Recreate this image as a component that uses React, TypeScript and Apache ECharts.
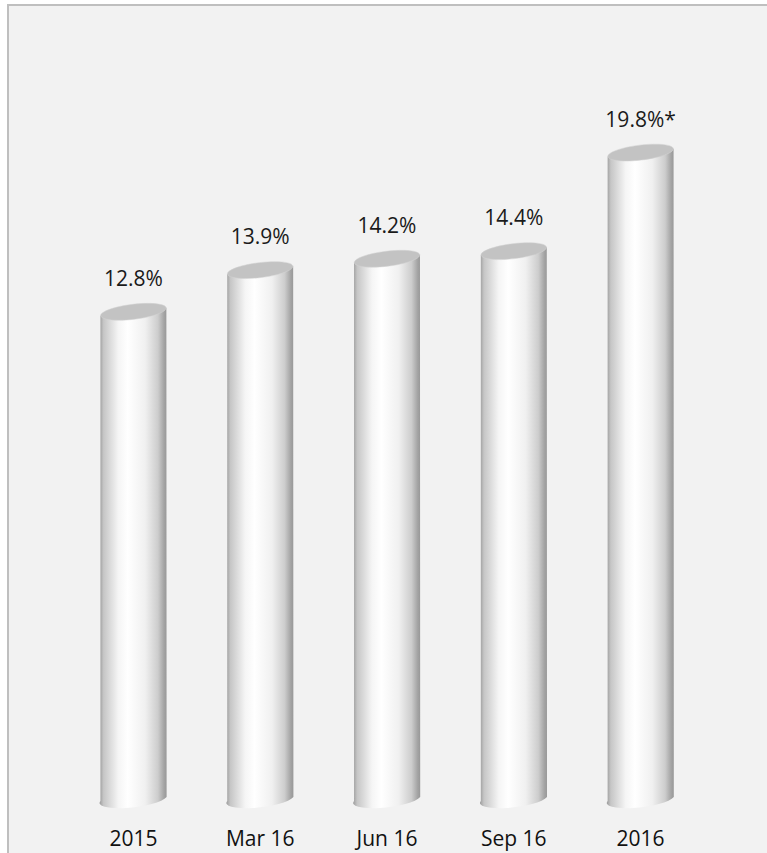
import React, { useEffect, useRef } from "react";
import * as echarts from "echarts";

const categories = ["2015", "Mar 16", "Jun 16", "Sep 16", "2016"];
const values = [12.8, 13.9, 14.2, 14.4, 19.8];
const notes = ["", "", "", "", "*"];
// The last cylinder is drawn shortened in the reference; an axis break reproduces this.
const breakStart = 15;
const breakEnd = 17.8;

const FONT = "'Open Sans', 'Noto Sans', sans-serif";

export default function App() {
  const ref = useRef<HTMLDivElement>(null);

  useEffect(() => {
    if (!ref.current) return;
    const chart = echarts.init(ref.current, null, { renderer: "svg" });
    const tilt = 0.12;
    const tiltDeg = (tilt * 180) / Math.PI;

    const renderItem = (params: any, api: any) => {
      const idx = api.value(0);
      const v = api.value(1);
      const base = api.coord([idx, 0]);
      const top = api.coord([idx, v]);
      const band = api.size([1, 0])[0];
      const rx = band * 0.26;
      const ryTop = 7.5;
      const ryBot = 8;
      const cx = base[0];
      const left = cx - rx;
      const right = cx + rx;
      const d = rx * Math.sin(tilt);
      const by = base[1];
      const ty = top[1];
      const pathData =
        `M${left},${ty + d} L${left},${by + d} ` +
        `A${rx},${ryBot} ${-tiltDeg} 0 0 ${right},${by - d} ` +
        `L${right},${ty - d} Z`;
      return {
        type: "group",
        children: [
          {
            type: "path",
            shape: { pathData },
            style: {
              fill: new echarts.graphic.LinearGradient(0, 0, 1, 0, [
                { offset: 0, color: "#9c9c9c" },
                { offset: 0.06, color: "#c6c6c6" },
                { offset: 0.28, color: "#f5f5f5" },
                { offset: 0.42, color: "#ffffff" },
                { offset: 0.68, color: "#f0f0f0" },
                { offset: 0.87, color: "#cdcdcd" },
                { offset: 0.96, color: "#a4a4a4" },
                { offset: 1, color: "#989898" },
              ]),
              stroke: "none",
            },
          },
          {
            type: "ellipse",
            x: cx,
            y: ty,
            rotation: tilt,
            shape: { cx: 0, cy: 0, rx: rx, ry: ryTop },
            style: {
              fill: "#c3c3c3",
              stroke: "#d2d2d2",
              lineWidth: 0.5,
            },
          },
          {
            type: "text",
            x: cx,
            y: ty - 34,
            style: {
              text: `${values[idx].toFixed(1)}%${notes[idx]}`,
              fontSize: 21,
              fontFamily: FONT,
              fill: "#1a1a1a",
              align: "center",
              verticalAlign: "middle",
            },
          },
        ],
      };
    };

    chart.setOption({
      animation: false,
      backgroundColor: "transparent",
      grid: { left: 70, right: 63, top: 145, bottom: 56 },
      xAxis: {
        type: "category",
        data: categories,
        axisLine: { show: false },
        axisTick: { show: false },
        axisLabel: {
          fontSize: 21,
          fontFamily: FONT,
          color: "#111",
          margin: 30,
        },
        splitLine: { show: false },
      },
      yAxis: {
        type: "value",
        min: 0,
        max: 20,
        show: false,
        splitLine: { show: false },
        breaks: [{ start: breakStart, end: breakEnd, gap: 0 }],
        breakArea: { show: false },
      },
      series: [
        {
          type: "custom",
          renderItem,
          data: values.map((v, i) => [i, v]),
          encode: { x: 0, y: 1 },
          clip: false,
        },
      ],
    });
    return () => chart.dispose();
  }, []);

  return (
    <div style={{ position: "absolute", left: 0, top: 0, width: 767, height: 853, background: "#ffffff", overflow: "hidden" }}>
      <div
        style={{
          position: "absolute",
          left: 7,
          top: 4,
          right: 0,
          bottom: 0,
          borderTop: "2px solid #bfbfbf",
          borderLeft: "2px solid #bfbfbf",
          background: "#f2f2f2",
        }}
      />
      <div ref={ref} style={{ position: "absolute", left: 0, top: 0, width: 767, height: 853 }} />
    </div>
  );
}
